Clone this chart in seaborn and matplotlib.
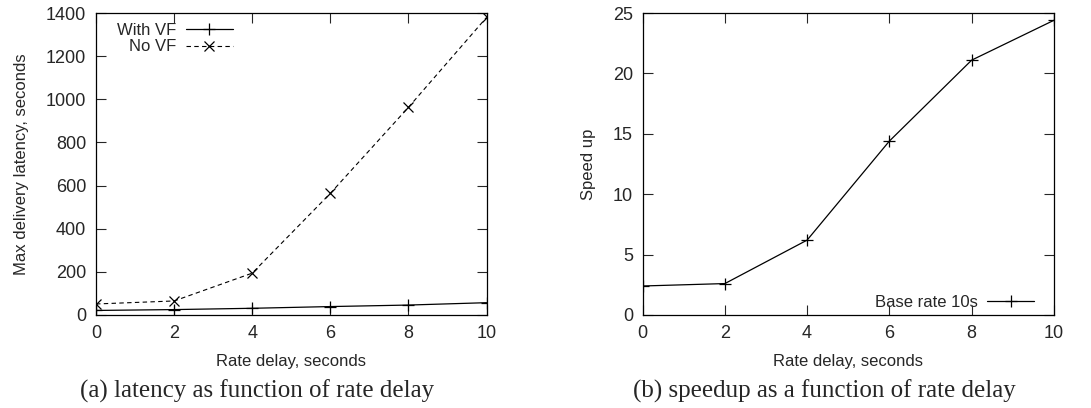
import numpy as np
import pandas as pd
import seaborn as sns
import matplotlib.pyplot as plt

# data
rate_delay = [0, 2, 4, 6, 8, 10]
with_vf = [21, 25, 31, 39, 46, 57]
no_vf = [51, 65, 194, 564, 963, 1380]
speedup = [2.4, 2.6, 6.2, 14.4, 21.1, 24.4]

sns.set_style('ticks')
plt.rcParams['font.family'] = ['Liberation Sans', 'DejaVu Sans']

fig = plt.figure(figsize=(10.91, 4.08), dpi=100)
ax1 = fig.add_axes([0.088, 0.228, 0.358, 0.740])
ax2 = fig.add_axes([0.589, 0.228, 0.377, 0.740])

lat_df = pd.DataFrame({
    'delay': rate_delay * 2,
    'latency': with_vf + no_vf,
    'series': ['With VF'] * 6 + ['No VF'] * 6,
})
sp_df = pd.DataFrame({'delay': rate_delay, 'speedup': speedup})

mk = dict(markeredgecolor='black', markerfacecolor='black', mew=0.9)

# left panel: latency
sns.lineplot(data=lat_df[lat_df.series == 'With VF'], x='delay', y='latency', ax=ax1,
             color='black', lw=0.9, marker='+', markersize=9, label='With VF', **mk)
sns.lineplot(data=lat_df[lat_df.series == 'No VF'], x='delay', y='latency', ax=ax1,
             color='black', lw=0.8, linestyle=(0, (4, 3)), marker='x', markersize=7,
             label='No VF', **mk)
ax1.set_xlim(0, 10)
ax1.set_ylim(0, 1400)
ax1.set_yticks(np.arange(0, 1401, 200))
ax1.set_xlabel('Rate delay, seconds', labelpad=9)
ax1.set_ylabel('Max delivery latency, seconds', labelpad=12)
ax1.legend(loc='upper left', bbox_to_anchor=(0.036, 0.99), borderaxespad=0,
           frameon=False, markerfirst=False, handlelength=2.8,
           labelspacing=0.1, handletextpad=0.6, fontsize=12)

# right panel: speedup
sns.lineplot(data=sp_df, x='delay', y='speedup', ax=ax2, color='black', lw=0.9,
             marker='+', markersize=9, label='Base rate 10s', **mk)
ax2.set_xlim(0, 10)
ax2.set_ylim(0, 25)
ax2.set_yticks(np.arange(0, 26, 5))
ax2.set_xlabel('Rate delay, seconds', labelpad=9)
ax2.set_ylabel('Speed up', labelpad=12)
ax2.legend(loc='lower right', bbox_to_anchor=(0.968, -0.005), borderaxespad=0,
           frameon=False, markerfirst=False, handlelength=2.8,
           handletextpad=0.6, fontsize=12)

for ax in (ax1, ax2):
    ax.set_xticks(rate_delay)
    ax.tick_params(direction='in', top=True, right=True, length=7, width=0.8,
                   labelsize=13, pad=7)
    for s in ax.spines.values():
        s.set_linewidth(0.9)
        s.set_color('black')
    ax.xaxis.label.set_size(12)
    ax.yaxis.label.set_size(12)

fig.text(0.236, 0.025, '(a) latency as function of rate delay', ha='center',
         family='Liberation Serif', fontsize=18)
fig.text(0.756, 0.025, '(b) speedup as a function of rate delay', ha='center',
         family='Liberation Serif', fontsize=18)

fig.savefig('out.png', dpi=100)
